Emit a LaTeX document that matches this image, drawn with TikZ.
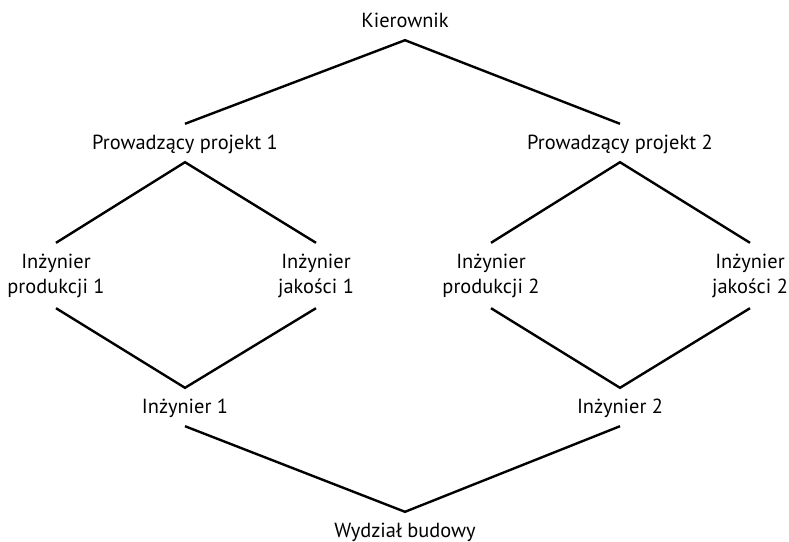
\documentclass[tikz,border=0pt]{standalone}
\usepackage{fontspec}
\setmainfont{PT Sans}
\usepackage{tikz}

\tikzset{
  person/.style={font=\fontsize{20.4}{25}\selectfont, align=center, anchor=base,
    text height=14pt, text depth=2pt, inner xsep=0pt, inner ysep=11pt},
  pair/.style={person, text height=39pt, text depth=4pt}, % two lines, base = second line
  link/.style={line width=2.4pt}
}

\begin{document}
\begin{tikzpicture}[x=1pt,y=-1pt]
 		\useasboundingbox (0,0) rectangle (789,541);
 		% levels
 		\node[person] (kier) at (405,27) {Kierownik};
 		\node[person] (proj1) at (185,149) {Prowadzący projekt 1};
 		\node[person] (proj2) at (620,149) {Prowadzący projekt 2};
 		\node[pair] (prod1) at (56,293) {Inżynier\\produkcji 1};
 		\node[pair] (jak1) at (316,293) {Inżynier\\jakości 1};
 		\node[pair] (prod2) at (491,293) {Inżynier\\produkcji 2};
 		\node[pair] (jak2) at (750,293) {Inżynier\\jakości 2};
 		\node[person] (inz1) at (185,413) {Inżynier 1};
 		\node[person] (inz2) at (620,413) {Inżynier 2};
 		\node[person] (wydz) at (405,537) {Wydział budowy};
 		% connectors
 		\draw[link] (proj1.north) -- (kier.south) -- (proj2.north);
 		\draw[link] (prod1.north) -- (proj1.south) -- (jak1.north);
 		\draw[link] (prod2.north) -- (proj2.south) -- (jak2.north);
 		\draw[link] (prod1.south) -- (inz1.north) -- (jak1.south);
 		\draw[link] (prod2.south) -- (inz2.north) -- (jak2.south);
 		\draw[link] (inz1.south) -- (wydz.north) -- (inz2.south);
 	\end{tikzpicture}
\end{document}
